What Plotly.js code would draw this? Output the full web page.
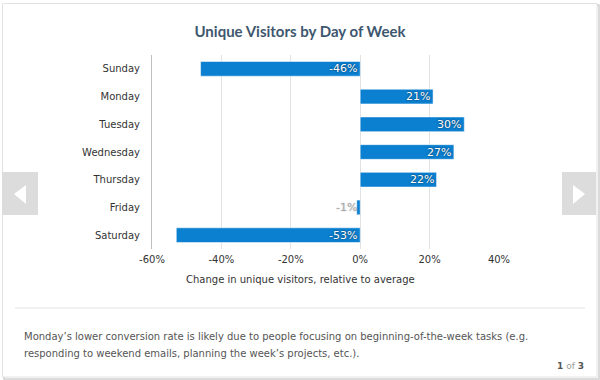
<!DOCTYPE html>
<html>
<head>
<meta charset="utf-8">
<script src="https://cdn.plot.ly/plotly-3.0.1.min.js"></script>
<style>
html,body{margin:0;padding:0;background:#fff;}
#chart{width:600px;height:380px;}
</style>
</head>
<body>
<div id="chart"></div>
<script>
// ---- data ----
var days = ['Sunday', 'Monday', 'Tuesday', 'Wednesday', 'Thursday', 'Friday', 'Saturday'];
var changePct = [-46, 21, 30, 27, 22, -1, -53];
var xTickVals = [-60, -40, -20, 0, 20, 40];
var xTickText = ['-60%', '-40%', '-20%', '0%', '20%', '40%'];
var chartTitle = 'Unique Visitors by Day of Week';
var xTitle = 'Change in unique visitors, relative to average';
var noteLine1 = 'Monday\u2019s lower conversion rate is likely due to people focusing on beginning-of-the-week tasks (e.g.';
var noteLine2 = 'responding to weekend emails, planning the week\u2019s projects, etc.).';
var pager = '<b>1</b> <span style="color:#9a9a9a">of</span> <b>3</b>';

// ---- geometry (plot area in pixels) ----
var W = 600, H = 380;
var L = 152, R = 499, T = 55, B = 249;
function px(x) { return (x - L) / (R - L); }
function py(y) { return (B - y) / (B - T); }

var FONT = 'DejaVu Sans, Verdana, sans-serif';

var trace = {
  type: 'bar',
  orientation: 'h',
  x: changePct,
  y: days,
  marker: { color: '#0b7fd0', line: { color: 'rgba(255,255,255,0.5)', width: 1 } },
  hoverinfo: 'skip'
};

var annotations = changePct.map(function (v, i) {
  var tiny = Math.abs(v) < 5;
  return {
    x: Math.max(v, 0), y: days[i], xref: 'x', yref: 'y',
    text: v + '%', showarrow: false, xanchor: 'right', yanchor: 'middle',
    xshift: tiny ? -1 : -1,
    font: tiny
      ? { family: FONT, size: 11, color: '#a8a8a8', shadow: '0px 0px 2px rgba(0,0,0,0.25)' }
      : { family: FONT, size: 11, color: '#ffffff', shadow: '0px 0px 2px rgba(0,0,0,0.7)' }
  };
});

annotations.push({
  xref: 'paper', yref: 'paper', x: px(300), y: py(279), xanchor: 'center', yanchor: 'middle',
  text: xTitle, showarrow: false,
  font: { family: FONT, size: 10, color: '#333333' }
});
annotations.push({
  xref: 'paper', yref: 'paper', x: px(22), y: py(336), xanchor: 'left', yanchor: 'middle',
  text: noteLine1, showarrow: false, align: 'left',
  font: { family: FONT, size: 10, color: '#555555' }
});
annotations.push({
  xref: 'paper', yref: 'paper', x: px(22), y: py(353), xanchor: 'left', yanchor: 'middle',
  text: noteLine2, showarrow: false, align: 'left',
  font: { family: FONT, size: 10, color: '#555555' }
});
annotations.push({
  xref: 'paper', yref: 'paper', x: px(586), y: py(366), xanchor: 'right', yanchor: 'middle',
  text: pager, showarrow: false,
  font: { family: FONT, size: 9, color: '#555555' }
});

function rect(x0, y0, x1, y1, fill, line) {
  return { type: 'rect', xref: 'paper', yref: 'paper', layer: 'below',
    x0: px(x0), x1: px(x1), y0: py(y0), y1: py(y1),
    fillcolor: fill, line: line || { width: 0 } };
}
function tri(pts, fill) {
  var p = 'M ' + pts.map(function (q) { return px(q[0]) + ',' + py(q[1]); }).join(' L ') + ' Z';
  return { type: 'path', xref: 'paper', yref: 'paper', path: p, fillcolor: fill, line: { width: 0 } };
}

var shapes = [
  // card shadow + border
  rect(4, 5, 599, 379, 'rgba(0,0,0,0)', { color: '#d0d0d0', width: 1.5 }),
  rect(2.5, 3.5, 597, 377, '#ffffff', { color: '#e2e2e2', width: 1 }),
  // divider
  { type: 'line', xref: 'paper', yref: 'paper', x0: px(15), x1: px(585), y0: py(308), y1: py(308),
    line: { color: '#e4e4e4', width: 1 } },
  // nav boxes
  rect(2, 172, 38, 215, '#dcdcdc'),
  rect(562, 172, 596, 215, '#dcdcdc'),
  tri([[14, 194], [26, 185], [26, 204]], '#ffffff'),
  tri([[573, 185], [585, 194], [573, 204]], '#ffffff')
];

var layout = {
  width: W, height: H,
  margin: { l: L, r: W - R, t: T, b: H - B, pad: 0 },
  paper_bgcolor: 'rgba(0,0,0,0)',
  plot_bgcolor: 'rgba(0,0,0,0)',
  showlegend: false,
  bargap: 0.47,
  title: {
    text: '<b>' + chartTitle + '</b>',
    font: { family: 'Lato, sans-serif', size: 15, color: '#3e576f' },
    x: 0.5, xref: 'container', y: 1 - 32 / H, yref: 'container', yanchor: 'middle'
  },
  xaxis: {
    range: [-60, 40],
    tickvals: xTickVals, ticktext: xTickText,
    showgrid: true, gridcolor: '#e2e2e2', gridwidth: 1,
    zeroline: false, showline: false,
    ticks: 'outside', ticklen: 1, tickcolor: 'rgba(0,0,0,0)',
    tickfont: { family: FONT, size: 10, color: '#333333' },
    fixedrange: true
  },
  yaxis: {
    type: 'category',
    autorange: 'reversed',
    showgrid: false, zeroline: false,
    showline: true, linecolor: '#c0c0c0', linewidth: 1,
    ticks: 'outside', ticklen: 9, tickcolor: 'rgba(0,0,0,0)',
    tickfont: { family: FONT, size: 10, color: '#333333' },
    fixedrange: true
  },
  annotations: annotations,
  shapes: shapes
};

Plotly.newPlot('chart', [trace], layout, { displayModeBar: false, staticPlot: true });
</script>
</body>
</html>
